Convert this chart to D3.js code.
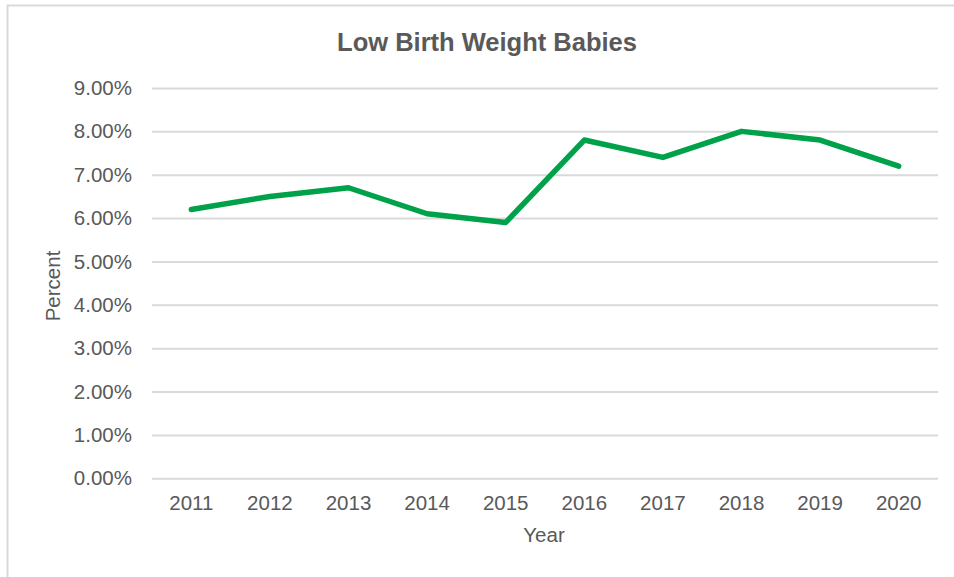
<!DOCTYPE html>
<html>
<head>
<meta charset="utf-8">
<script src="https://cdn.jsdelivr.net/npm/d3@7"></script>
<style>
  html, body { margin: 0; padding: 0; background: #ffffff; }
  svg { display: block; font-family: "Liberation Sans", Arial, sans-serif; }
</style>
</head>
<body>
<svg id="chart" width="954" height="577"></svg>
<script>
// Low birth weight babies, share of births by year
const years = ["2011", "2012", "2013", "2014", "2015", "2016", "2017", "2018", "2019", "2020"];
const percentValues = [6.2, 6.5, 6.7, 6.1, 5.9, 7.8, 7.4, 8.0, 7.8, 7.2];
const yTicks = [0, 1, 2, 3, 4, 5, 6, 7, 8, 9];

const svg = d3.select("#chart");
const W = 954, H = 577;
const margin = { left: 152, right: 16, top: 88, bottom: 98 };
const textColor = "#595959";

// outer chart frame
svg.append("rect")
  .attr("x", 7.5).attr("y", 5.5)
  .attr("width", W + 10).attr("height", H + 10)
  .attr("fill", "#ffffff")
  .attr("stroke", "#d9d9d9")
  .attr("stroke-width", 2);

const x = d3.scaleBand()
  .domain(years)
  .range([margin.left, W - margin.right])
  .paddingInner(0).paddingOuter(0);

const y = d3.scaleLinear()
  .domain([0, 9])
  .range([H - margin.bottom - 0.7, margin.top]);

// title
svg.append("text")
  .attr("x", 487).attr("y", 51)
  .attr("text-anchor", "middle")
  .attr("font-size", 25.5)
  .attr("font-weight", "bold")
  .attr("fill", textColor)
  .text("Low Birth Weight Babies");

// horizontal gridlines + y labels
const yAxis = d3.axisLeft(y)
  .tickValues(yTicks)
  .tickSize(-(W - margin.left - margin.right))
  .tickPadding(20)
  .tickFormat(d => d3.format(".2f")(d) + "%");

const gy = svg.append("g")
  .attr("transform", `translate(${margin.left},0)`)
  .call(yAxis);
gy.select(".domain").remove();
gy.selectAll(".tick line").attr("stroke", "#d9d9d9").attr("stroke-width", 2);
gy.selectAll(".tick text")
  .attr("fill", textColor)
  .attr("font-size", 20.5)
  .attr("font-family", "Liberation Sans, Arial, sans-serif");

// x labels
const xAxis = d3.axisBottom(x).tickSize(0).tickPadding(17);
const gx = svg.append("g")
  .attr("transform", `translate(0,${y(0)})`)
  .call(xAxis);
gx.select(".domain").remove();
gx.selectAll(".tick text")
  .attr("fill", textColor)
  .attr("font-size", 20.5)
  .attr("font-family", "Liberation Sans, Arial, sans-serif");

// axis titles
svg.append("text")
  .attr("x", 544).attr("y", 542)
  .attr("text-anchor", "middle")
  .attr("font-size", 20.5)
  .attr("fill", textColor)
  .text("Year");

svg.append("text")
  .attr("transform", "translate(60,286) rotate(-90)")
  .attr("text-anchor", "middle")
  .attr("font-size", 20.5)
  .attr("fill", textColor)
  .text("Percent");

// series line
const line = d3.line()
  .x((d, i) => x(years[i]) + x.bandwidth() / 2)
  .y(d => y(d));

svg.append("path")
  .datum(percentValues)
  .attr("d", line)
  .attr("fill", "none")
  .attr("stroke", "#00A14B")
  .attr("stroke-width", 5.5)
  .attr("stroke-linejoin", "round")
  .attr("stroke-linecap", "round");
</script>
</body>
</html>
